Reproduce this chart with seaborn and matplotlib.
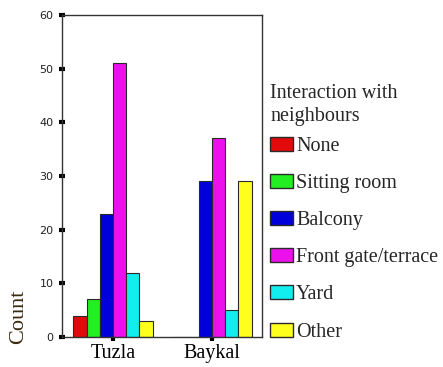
import matplotlib
matplotlib.use("Agg")
import matplotlib.pyplot as plt
import seaborn as sns
import pandas as pd

# Survey counts by site and place of interaction
sites = ["Tuzla", "Baykal"]
places = ["None", "Sitting room", "Balcony", "Front gate/terrace", "Yard", "Other"]
tuzla_counts = [4, 7, 23, 51, 12, 3]
baykal_counts = [0, 0, 29, 37, 5, 29]
place_colors = ["#E20A0A", "#22EE22", "#0000DA", "#EC10EC", "#12EEEE", "#FFFF1E"]
y_ticks = [0, 10, 20, 30, 40, 50, 60]

rows = []
for site, counts in zip(sites, [tuzla_counts, baykal_counts]):
    for place, n in zip(places, counts):
        rows.append({"site": site, "place": place, "count": n})
df = pd.DataFrame(rows)

sns.set_style("white")
serif = "Liberation Serif"

W, H = 443, 367
fig = plt.figure(figsize=(W / 100, H / 100), dpi=100)
ax = fig.add_axes([62 / W, 30 / H, 200 / W, 322 / H])

sns.barplot(data=df, x="site", y="count", hue="place", order=sites,
            hue_order=places, palette=place_colors, width=0.8,
            edgecolor="#2a2a2a", linewidth=0.8, saturation=1,
            ax=ax, legend=False)

ax.set_xlim(-0.515, 1.505)
ax.set_ylim(0, 60)
ax.set_yticks(y_ticks)
ax.set_yticklabels([str(v) for v in y_ticks], fontsize=8, color="#222222",
                   family="DejaVu Sans")
ax.set_xticklabels(sites, fontsize=14.5, family=serif, color="black")
ax.set_xlabel("")

for side in ["left", "right", "top", "bottom"]:
    ax.spines[side].set_visible(True)
    ax.spines[side].set_color("#333333")
    ax.spines[side].set_linewidth(1.0)

ax.tick_params(axis="y", direction="inout", length=4, width=3, color="black",
               pad=4, left=True)
ax.tick_params(axis="x", direction="out", length=3, width=3, color="black",
               pad=2, bottom=True)

ax.set_ylabel("Count", loc="bottom", fontsize=16, family=serif, color="#3a2a10")
ax.yaxis.set_label_coords(-0.17, -0.022)

# Legend: title set as its own text block, entries below it
fig.text(270 / W, 1 - 84 / H, "Interaction with\nneighbours", ha="left",
         va="top", family=serif, fontsize=14.5, linespacing=1.25)

handles = [plt.Rectangle((0, 0), 1, 1, facecolor=c, edgecolor="#2a2a2a",
                         linewidth=1.0) for c in place_colors]
leg = fig.legend(handles, places, loc="upper left",
                 bbox_to_anchor=(270 / W, 1 - 136.5 / H),
                 frameon=False, borderpad=0, borderaxespad=0,
                 handlelength=1.15, handleheight=0.7, handletextpad=0.15,
                 labelspacing=0.9,
                 prop={"family": serif, "size": 14.5})

fig.savefig("out.png", dpi=100)
